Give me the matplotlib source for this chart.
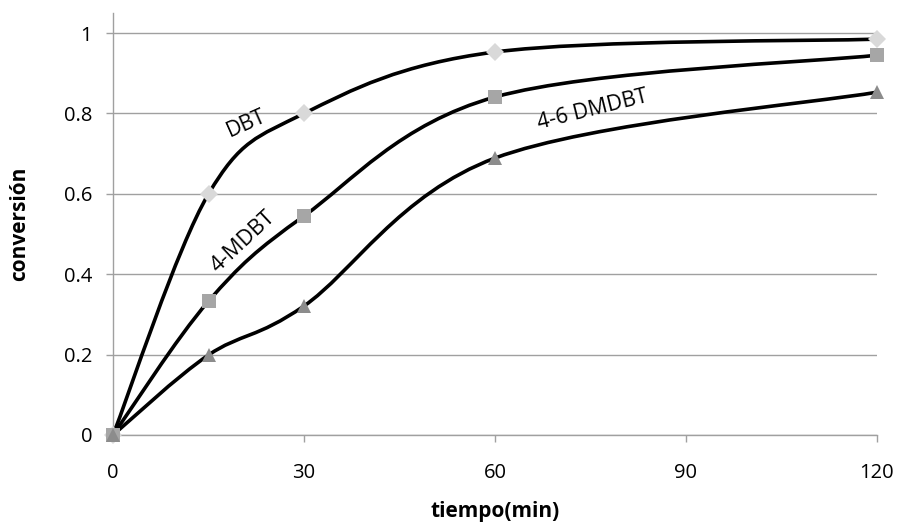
import matplotlib
matplotlib.use("Agg")
import matplotlib.pyplot as plt
from matplotlib.path import Path
from matplotlib.patches import PathPatch

plt.rcParams["font.family"] = ["Open Sans", "DejaVu Sans"]

# Data
tiempo = [0, 15, 30, 60, 120]
dbt = [0, 0.60, 0.80, 0.953, 0.985]
mdbt = [0, 0.333, 0.545, 0.841, 0.945]
dmdbt = [0, 0.199, 0.321, 0.689, 0.853]

x_ticks = [0, 30, 60, 90, 120]
y_ticks = [0, 0.2, 0.4, 0.6, 0.8, 1]
y_tick_labels = ["0", "0.2", "0.4", "0.6", "0.8", "1"]


def smooth_path(xs, ys):
    """Catmull-Rom style Bezier path, like Excel's smoothed line."""
    pts = list(zip(xs, ys))
    verts = [pts[0]]
    codes = [Path.MOVETO]
    n = len(pts)
    for i in range(n - 1):
        p0 = pts[i - 1] if i > 0 else pts[i]
        p1 = pts[i]
        p2 = pts[i + 1]
        p3 = pts[i + 2] if i + 2 < n else pts[i + 1]
        c1 = (p1[0] + (p2[0] - p0[0]) / 6, p1[1] + (p2[1] - p0[1]) / 6)
        c2 = (p2[0] - (p3[0] - p1[0]) / 6, p2[1] - (p3[1] - p1[1]) / 6)
        verts += [c1, c2, p2]
        codes += [Path.CURVE4] * 3
    return Path(verts, codes)


fig = plt.figure(figsize=(9, 5.23), dpi=100)
ax = fig.add_axes([0.1256, 0.1683, 0.8488, 0.8068])

series = [
    (dbt, "D", "#d9d9d9", 9),
    (mdbt, "s", "#a6a6a6", 10),
    (dmdbt, "^", "#8c8c8c", 10),
]
for values, marker, color, size in series:
    patch = PathPatch(smooth_path(tiempo, values), facecolor="none",
                      edgecolor="black", lw=2.6, zorder=3, clip_on=False)
    ax.add_patch(patch)
    ax.plot(tiempo, values, linestyle="none", marker=marker, color=color,
            markersize=size, markeredgewidth=0, zorder=4, clip_on=False)

ax.text(21.0, 0.775, "DBT", rotation=24, fontsize=15.5, ha="center", va="center")
ax.text(20.4, 0.48, "4-MDBT", rotation=43, fontsize=15.5, ha="center", va="center")
ax.text(75.4, 0.808, "4-6 DMDBT", rotation=14, fontsize=15.5, ha="center", va="center")

ax.set_xlim(0, 120)
ax.set_ylim(0, 1.05)
ax.set_xticks(x_ticks)
ax.set_yticks(y_ticks)
ax.set_yticklabels(y_tick_labels)
ax.tick_params(labelsize=14.5, color="#a0a0a0", length=5, width=1)
ax.tick_params(axis="x", pad=15)
ax.tick_params(axis="y", pad=10)

ax.grid(axis="y", color="#a0a0a0", lw=1)
ax.set_axisbelow(True)
for side in ["top", "right"]:
    ax.spines[side].set_visible(False)
for side in ["left", "bottom"]:
    ax.spines[side].set_color("#a0a0a0")
    ax.spines[side].set_linewidth(1)

ax.set_xlabel("tiempo(min)", fontsize=15, fontweight="bold", labelpad=13)
ax.set_ylabel("conversión", fontsize=15, fontweight="bold", labelpad=24)

fig.savefig("out.png", dpi=100)
